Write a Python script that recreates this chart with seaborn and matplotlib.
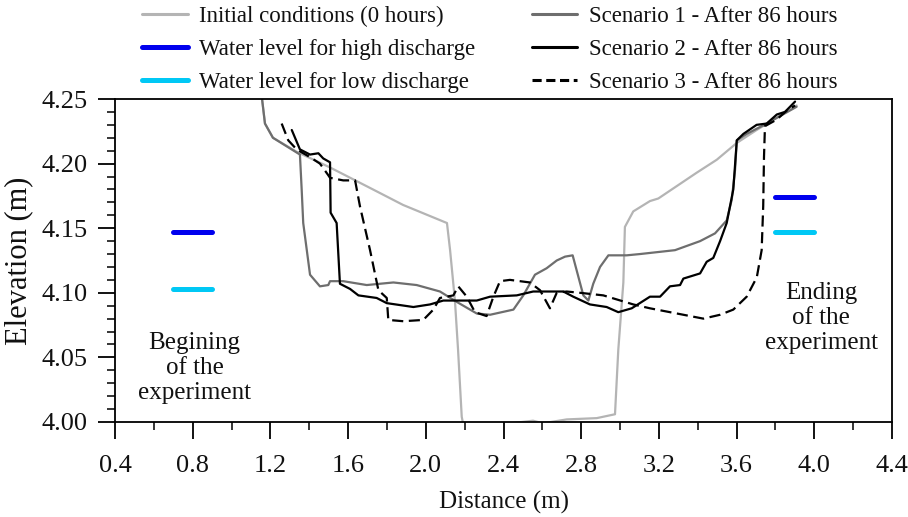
import numpy as np
import pandas as pd
import matplotlib
matplotlib.use("Agg")
import matplotlib.pyplot as plt
from matplotlib.lines import Line2D
from matplotlib.ticker import MultipleLocator, FormatStrFormatter
import seaborn as sns

# Cross-section profiles (distance in m, elevation in m)
init_x = [1.157, 1.172, 1.213, 1.337, 1.507, 1.728, 1.883, 2.109, 2.125, 2.150, 2.166, 2.185,
          2.193, 2.382, 2.552, 2.603, 2.725, 2.880, 2.974, 2.991, 3.017, 3.025, 3.068, 3.154,
          3.197, 3.395, 3.498, 3.601, 3.703, 3.909]
init_y = [4.250, 4.231, 4.220, 4.209, 4.197, 4.180, 4.168, 4.154, 4.133, 4.094, 4.056, 4.004,
          3.998, 3.998, 4.001, 3.999, 4.002, 4.003, 4.006, 4.056, 4.108, 4.151, 4.163, 4.171,
          4.173, 4.193, 4.203, 4.216, 4.226, 4.245]

s1_x = [1.157, 1.172, 1.213, 1.352, 1.361, 1.369, 1.404, 1.455, 1.498, 1.507, 1.575, 1.696,
        1.833, 1.953, 2.073, 2.159, 2.262, 2.331, 2.451, 2.502, 2.562, 2.622, 2.674, 2.717,
        2.756, 2.811, 2.837, 2.862, 2.897, 2.940, 3.034, 3.103, 3.283, 3.412, 3.489, 3.549,
        3.575, 3.592, 3.601, 3.652, 3.755, 3.909]
s1_y = [4.250, 4.231, 4.220, 4.207, 4.180, 4.154, 4.114, 4.105, 4.106, 4.109, 4.109, 4.106,
        4.108, 4.106, 4.101, 4.093, 4.084, 4.083, 4.087, 4.098, 4.114, 4.119, 4.125, 4.128,
        4.129, 4.098, 4.094, 4.107, 4.120, 4.129, 4.129, 4.130, 4.133, 4.140, 4.146, 4.156,
        4.172, 4.195, 4.218, 4.223, 4.231, 4.244]

s2_x = [1.310, 1.352, 1.378, 1.404, 1.447, 1.472, 1.507, 1.510, 1.541, 1.558, 1.584, 1.610,
        1.653, 1.747, 1.799, 1.936, 2.022, 2.090, 2.193, 2.262, 2.331, 2.468, 2.553, 2.708,
        2.759, 2.845, 2.931, 2.991, 3.060, 3.154, 3.206, 3.257, 3.309, 3.326, 3.412, 3.446,
        3.480, 3.515, 3.549, 3.583, 3.601, 3.635, 3.703, 3.755, 3.807, 3.849, 3.901]
s2_y = [4.226, 4.211, 4.209, 4.207, 4.208, 4.204, 4.201, 4.162, 4.154, 4.107, 4.105, 4.103,
        4.098, 4.096, 4.092, 4.089, 4.091, 4.094, 4.094, 4.094, 4.097, 4.098, 4.101, 4.101,
        4.097, 4.091, 4.089, 4.085, 4.088, 4.097, 4.097, 4.105, 4.106, 4.111, 4.115, 4.124,
        4.127, 4.140, 4.154, 4.180, 4.218, 4.223, 4.230, 4.231, 4.238, 4.240, 4.248]

s3_x = [1.258, 1.292, 1.335, 1.404, 1.455, 1.498, 1.507, 1.575, 1.636, 1.661, 1.713, 1.756,
        1.799, 1.807, 1.884, 1.987, 2.039, 2.073, 2.142, 2.167, 2.211, 2.253, 2.313, 2.348,
        2.382, 2.433, 2.536, 2.588, 2.639, 2.674, 2.725, 2.794, 2.914, 3.068, 3.154, 3.326,
        3.429, 3.515, 3.583, 3.652, 3.704, 3.729, 3.737, 3.741, 3.746, 3.806, 3.858, 3.901]
s3_y = [4.231, 4.218, 4.211, 4.205, 4.200, 4.191, 4.189, 4.187, 4.187, 4.167, 4.133, 4.102,
        4.096, 4.079, 4.078, 4.079, 4.087, 4.096, 4.098, 4.105, 4.097, 4.085, 4.082, 4.097,
        4.109, 4.110, 4.108, 4.102, 4.088, 4.100, 4.101, 4.100, 4.098, 4.091, 4.088, 4.083,
        4.080, 4.083, 4.087, 4.097, 4.112, 4.133, 4.167, 4.205, 4.229, 4.234, 4.241, 4.245]

# Water levels at the beginning and end of the experiment
begin_span = [0.7, 0.9]
end_span = [3.8, 4.0]
high_levels = [4.147, 4.174]   # begin, end
low_levels = [4.103, 4.147]    # begin, end

labels = ["Initial conditions (0 hours)", "Water level for high discharge",
          "Water level for low discharge", "Scenario 1 - After 86 hours",
          "Scenario 2 - After 86 hours", "Scenario 3 - After 86 hours"]

C_INIT = "#b4b4b4"
C_S1 = "#6e6e6e"
C_S2 = "#000000"
C_HIGH = "#0000ee"
C_LOW = "#00c8f5"
TXT = "#111111"
DASH = (0, (5, 2.5))

sns.set_theme(style="white")
plt.rcParams["font.family"] = ["Liberation Serif", "DejaVu Serif"]

fig = plt.figure(figsize=(9.08, 5.17), dpi=100)
ax = fig.add_axes([115 / 908, 1 - 422 / 517, 777 / 908, 323 / 517])

lw = 1.6
sns.lineplot(x=init_x, y=init_y, sort=False, estimator=None, color=C_INIT, lw=lw, ax=ax)
sns.lineplot(x=s1_x, y=s1_y, sort=False, estimator=None, color=C_S1, lw=lw, ax=ax)
sns.lineplot(x=s2_x, y=s2_y, sort=False, estimator=None, color=C_S2, lw=lw, ax=ax)
sns.lineplot(x=s3_x, y=s3_y, sort=False, estimator=None, color=C_S2, lw=lw,
             ax=ax, linestyle=DASH)

for span, hi, lo in [(begin_span, high_levels[0], low_levels[0]),
                     (end_span, high_levels[1], low_levels[1])]:
    sns.lineplot(x=span, y=[hi, hi], color=C_HIGH, lw=3.6, ax=ax)
    sns.lineplot(x=span, y=[lo, lo], color=C_LOW, lw=3.6, ax=ax)

ax.text(0.809, 4.0418, "Begining\nof the\nexperiment", ha="center", va="center",
        fontsize=18, linespacing=1.18, color=TXT)
ax.text(4.035, 4.0805, "Ending\nof the\nexperiment", ha="center", va="center",
        fontsize=18, linespacing=1.18, color=TXT)

ax.set_xlim(0.4, 4.4)
ax.set_ylim(4.0, 4.25)
ax.xaxis.set_major_locator(MultipleLocator(0.4))
ax.xaxis.set_minor_locator(MultipleLocator(0.2))
ax.yaxis.set_major_locator(MultipleLocator(0.05))
ax.yaxis.set_minor_locator(MultipleLocator(0.01))
ax.xaxis.set_major_formatter(FormatStrFormatter("%.1f"))
ax.yaxis.set_major_formatter(FormatStrFormatter("%.2f"))
ax.tick_params(axis="both", which="major", direction="out", length=12, width=1.3,
               labelsize=19, color="black", labelcolor=TXT,
               bottom=True, left=True, top=False, right=False)
ax.tick_params(axis="both", which="minor", direction="out", length=6, width=1.1,
               color="black", bottom=True, left=True, top=False, right=False)
ax.tick_params(axis="x", which="major", pad=12)
ax.tick_params(axis="y", which="major", pad=8)
for sp in ax.spines.values():
    sp.set_color("black")
    sp.set_linewidth(1.3)

ax.set_xlabel("Distance (m)", fontsize=18, color=TXT, labelpad=10)
ax.set_ylabel("Elevation (m)", fontsize=22, color=TXT, labelpad=6)

handles = [
    Line2D([], [], color=C_INIT, lw=2.2),
    Line2D([], [], color=C_HIGH, lw=3.6),
    Line2D([], [], color=C_LOW, lw=3.6),
    Line2D([], [], color=C_S1, lw=2.2),
    Line2D([], [], color=C_S2, lw=2.2),
    Line2D([], [], color=C_S2, lw=2.2, linestyle=(0, (3, 1.5))),
]
fig.legend(handles, labels, ncol=2, loc="upper left", bbox_to_anchor=(142 / 908, 1 - 6 / 517),
           frameon=False, fontsize=16.5, handlelength=2.0, handletextpad=0.5,
           columnspacing=2.45, labelspacing=0.52, borderpad=0.0, borderaxespad=0.0,
           labelcolor=TXT)

fig.savefig("out.png", dpi=100)
